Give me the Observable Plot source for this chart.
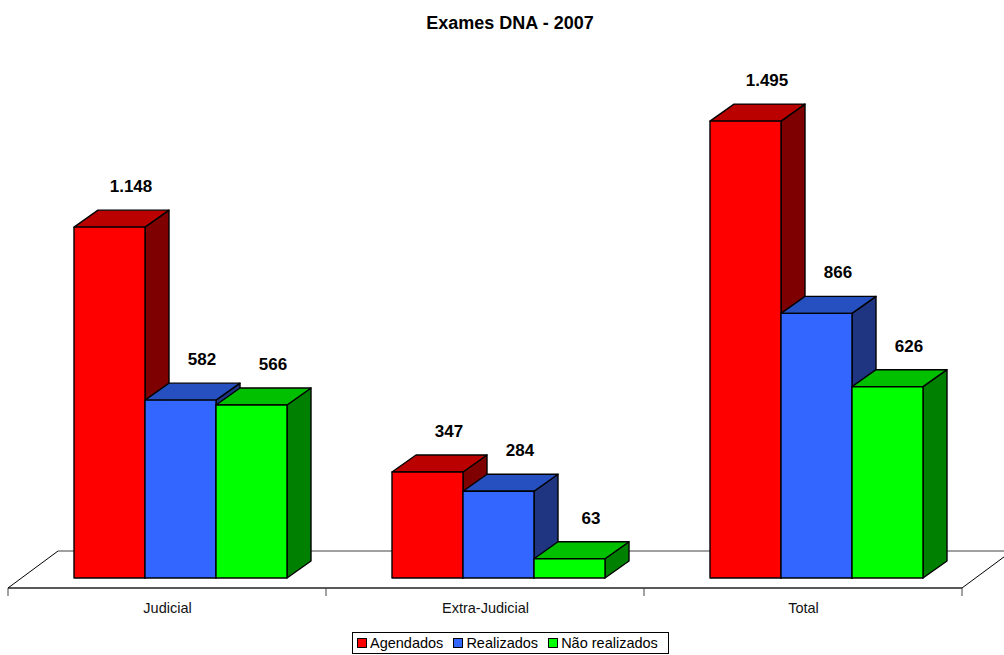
<!DOCTYPE html>
<html>
<head>
<meta charset="utf-8">
<script src="https://cdn.jsdelivr.net/npm/d3@7"></script>
<script src="https://cdn.jsdelivr.net/npm/@observablehq/plot@0.6"></script>
<style>
  body { margin: 0; background: #fff; font-family: "Liberation Sans", Arial, sans-serif; }
  #wrap { position: relative; width: 1004px; height: 655px; overflow: hidden; }
  #title { position: absolute; left: 16px; top: 12px; width: 988px; text-align: center;
           font-weight: bold; font-size: 18px; line-height: 22px; color: #000; }
  #chart { position: absolute; left: 0; top: 0; }
  #legend { position: absolute; left: 352px; top: 632px; width: 317px; height: 22px;
            border: 1px solid #000; box-sizing: border-box; display: flex; align-items: center;
            padding-left: 4px; font-size: 14.5px; color: #000; white-space: nowrap; }
  #legend .item { display: flex; align-items: center; margin-right: 10px; }
  #legend .sw { width: 8px; height: 8px; border: 1px solid #000; margin-right: 3px; }
</style>
</head>
<body>
<div id="wrap">
  <div id="chart"></div>
  <div id="title"></div>
  <div id="legend"></div>
</div>
<script>
// Exames DNA - 2007
const title = "Exames DNA - 2007";
const groups = ["Judicial", "Extra-Judicial", "Total"];
const series = ["Agendados", "Realizados", "Não realizados"];
const agendados = [1148, 347, 1495];
const realizados = [582, 284, 866];
const naoRealizados = [566, 63, 626];

// face colours: front, top, right side
const frontColors = ["#ff0000", "#3366ff", "#00ff00"];
const topColors = ["#bb0000", "#2650c0", "#00c000"];
const sideColors = ["#7f0000", "#1f3582", "#008000"];

const seriesValues = [agendados, realizados, naoRealizados];
const rows = groups.flatMap((g, gi) =>
  series.map((s, si) => ({group: g, series: s, value: seriesValues[si][gi]}))
);

const fmt = d3.formatLocale({decimal: ",", thousands: ".", grouping: [3], currency: ["R$", ""]}).format(",d");

// oblique projection of the depth axis
const depth = {dx: 24, dy: -17};          // bar depth
const floorDepth = {dx: 50, dy: -37};     // floor depth
const floorFront = 10;                    // floor front edge below the bar baseline

function bar3d(index, scales, values) {
  const bw = scales.x.bandwidth();
  const g = d3.create("svg:g")
    .attr("stroke", "#000")
    .attr("stroke-width", 1.4)
    .attr("stroke-linejoin", "round");
  for (const i of index) {
    const si = series.indexOf(rows[i].series);
    const x0 = values.x[i], x1 = x0 + bw;
    const yT = Math.min(values.y1[i], values.y2[i]);
    const yB = Math.max(values.y1[i], values.y2[i]);
    const {dx, dy} = depth;
    g.append("path")
      .attr("fill", sideColors[si])
      .attr("d", `M${x1},${yB}L${x1},${yT}L${x1 + dx},${yT + dy}L${x1 + dx},${yB + dy}Z`);
    g.append("path")
      .attr("fill", topColors[si])
      .attr("d", `M${x0},${yT}L${x1},${yT}L${x1 + dx},${yT + dy}L${x0 + dx},${yT + dy}Z`);
    g.append("rect")
      .attr("fill", values.fill[i])
      .attr("x", x0).attr("y", yT)
      .attr("width", x1 - x0).attr("height", yB - yT);
  }
  return g.node();
}

function floor(index, scales, values, dimensions) {
  const W = dimensions.width;
  const y0 = scales.y(0);
  const yf = y0 + floorFront, yb = yf + floorDepth.dy;
  const g = d3.create("svg:g").attr("fill", "none");
  for (const i of index) {
    g.append("line").attr("stroke", "#808080").attr("stroke-width", 1.5)
      .attr("x1", floorDepth.dx).attr("x2", W + floorDepth.dx).attr("y1", yb).attr("y2", yb);
    g.append("line").attr("stroke", "#222").attr("stroke-width", 1.5)
      .attr("x1", 0).attr("x2", W).attr("y1", yf).attr("y2", yf);
    g.append("line").attr("stroke", "#444").attr("stroke-width", 1)
      .attr("x1", 0).attr("x2", 0).attr("y1", yf).attr("y2", yf + 8);
    if (i === 0) {
      g.append("line").attr("stroke", "#000").attr("stroke-width", 1)
        .attr("x1", 0).attr("y1", yf).attr("x2", floorDepth.dx).attr("y2", yb);
    }
    if (i === groups.length - 1) {
      g.append("line").attr("stroke", "#444").attr("stroke-width", 1)
        .attr("x1", W).attr("x2", W).attr("y1", yf).attr("y2", yf + 8);
      g.append("line").attr("stroke", "#000").attr("stroke-width", 1)
        .attr("x1", W).attr("y1", yf).attr("x2", W + floorDepth.dx).attr("y2", yb);
    }
  }
  return g.node();
}

const chart = Plot.plot({
  width: 1004,
  height: 620,
  marginTop: 0, marginRight: 0, marginBottom: 0, marginLeft: 0,
  style: {fontFamily: "Liberation Sans, Arial, sans-serif", background: "transparent"},
  fx: {domain: groups, range: [8, 962], padding: 0, axis: null},
  x: {domain: series, range: [66, 279], padding: 0, axis: null},
  y: {domain: [0, 1600], range: [578, 89], axis: null},
  color: {domain: series, range: frontColors},
  marks: [
    Plot.dot(groups, {fx: d => d, frameAnchor: "bottom", render: floor}),
    Plot.barY(rows, {fx: "group", x: "series", y: "value", fill: "series", render: bar3d}),
    Plot.text(rows, {
      fx: "group", x: "series", y: "value",
      text: d => fmt(d.value),
      dx: 21, dy: -41, lineAnchor: "middle",
      fontWeight: "bold", fontSize: 17, fill: "#000"
    }),
    Plot.text(groups, {
      fx: d => d, text: d => d, frameAnchor: "bottom",
      dy: -12, lineAnchor: "middle", fontSize: 14.5, fill: "#111"
    })
  ]
});
document.getElementById("chart").appendChild(chart);
document.getElementById("title").textContent = title;

const legend = d3.select("#legend");
series.forEach((s, si) => {
  const item = legend.append("div").attr("class", "item");
  item.append("div").attr("class", "sw").style("background", frontColors[si]);
  item.append("span").text(s);
});
</script>
</body>
</html>
